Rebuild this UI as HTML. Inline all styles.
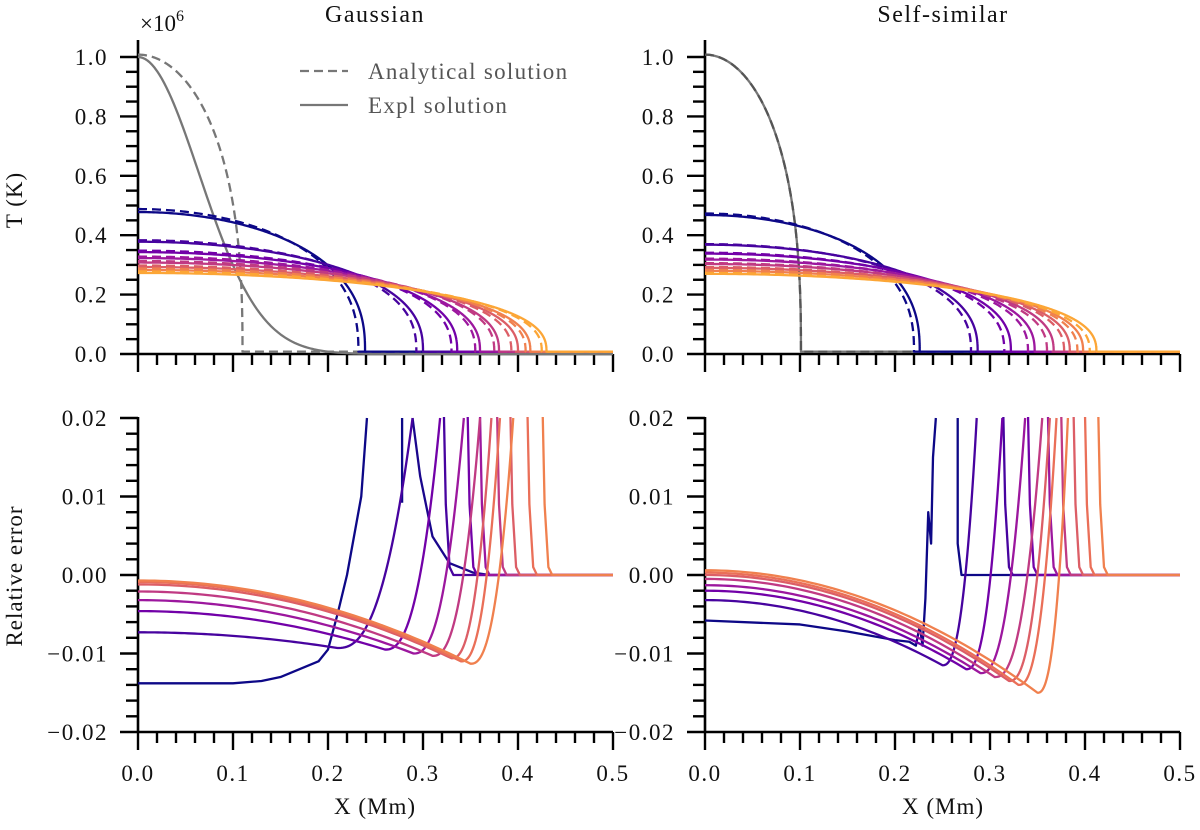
<!DOCTYPE html>
<html><head><meta charset="utf-8"><style>
html,body{margin:0;padding:0;background:#fff}
svg text{font-family:"Liberation Serif",serif;fill:#111}
</style></head><body>
<svg id="fig" width="1200" height="825" viewBox="0 0 1200 825" xmlns="http://www.w3.org/2000/svg">
<defs>
<clipPath id="cTL"><rect x="138" y="40" width="476" height="316"/></clipPath>
<clipPath id="cTR"><rect x="705" y="40" width="476" height="316"/></clipPath>
<clipPath id="cBL"><rect x="138" y="417" width="476" height="317"/></clipPath>
<clipPath id="cBR"><rect x="705" y="417" width="476" height="317"/></clipPath>
</defs>
<text x="375" y="22" font-size="24" letter-spacing="1.5" text-anchor="middle">Gaussian</text>
<text x="943" y="22" font-size="24" letter-spacing="1.5" text-anchor="middle">Self-similar</text>
<text x="140" y="31" font-size="23">×10<tspan font-size="16" dy="-10">6</tspan></text>
<text x="22" y="200" font-size="23" letter-spacing="1" text-anchor="middle" transform="rotate(-90 22 200)">T (K)</text>
<text x="22" y="576" font-size="23" letter-spacing="1" text-anchor="middle" transform="rotate(-90 22 576)">Relative error</text>
<text x="375" y="814" font-size="23" letter-spacing="1" text-anchor="middle">X (Mm)</text>
<text x="943" y="814" font-size="23" letter-spacing="1" text-anchor="middle">X (Mm)</text>
<g>
<line x1="300" y1="71" x2="348" y2="71" stroke="#777" stroke-width="2.2" stroke-dasharray="9,5"/>
<text x="368" y="79" font-size="23" letter-spacing="1.3" style="fill:#555">Analytical solution</text>
<line x1="300" y1="105" x2="348" y2="105" stroke="#777" stroke-width="2.2"/>
<text x="368" y="113" font-size="23" letter-spacing="1.3" style="fill:#555">Expl solution</text>
</g>
<g id="layer"></g>
</svg>
<script>
// ---- data: top panels (temperature, units 1e6 K) ----
const colors = ["#0d0887","#47039f","#7201a8","#9c179e","#c03a83","#dc5e66","#f0804e","#fca636"];
const errColors = ["#0d0887","#47039f","#7201a8","#9c179e","#c03a83","#dc5e66","#ea6f58","#f0804e"];
const gaussAmpAna = [0.48,0.375,0.34,0.32,0.305,0.29,0.28,0.27];
const gaussAmpNum = [0.47,0.37,0.335,0.315,0.30,0.285,0.275,0.265];
const gaussFrontAna = [0.232,0.293,0.33,0.355,0.375,0.393,0.408,0.425];
const gaussFrontNum = [0.239,0.30,0.336,0.36,0.38,0.40,0.413,0.43];
const selfAmpAna = [0.465,0.362,0.333,0.313,0.298,0.285,0.275,0.265];
const selfAmpNum = [0.46,0.36,0.33,0.31,0.295,0.282,0.272,0.262];
const selfFrontAna = [0.22,0.28,0.315,0.34,0.36,0.378,0.392,0.405];
const selfFrontNum = [0.226,0.287,0.322,0.347,0.367,0.384,0.398,0.412];
const initAmp = [1.0];
const gaussInitWidth = [0.091];
const gaussInitFront = [0.11];
const selfInitFront = [0.101];
const floorT = [0.008];
// ---- data: bottom panels (relative error) ----
const gErrStart = [-0.0073,-0.0046,-0.0032,-0.0021,-0.0012,-0.0009,-0.0007];
const gErrMin = [-0.0093,-0.0095,-0.0100,-0.0103,-0.0106,-0.0110,-0.0113];
const gErrMinX = [0.21,0.26,0.29,0.31,0.33,0.34,0.35];
const gErrRiseX = [0.289,0.318,0.343,0.36,0.372,0.381,0.395];
const gErrDropX = [0.322,0.347,0.36,0.378,0.392,0.41,0.426];
const gBlueX = [0,0.1,0.13,0.15,0.17,0.19,0.2,0.21,0.22,0.235,0.241];
const gBlueE = [-0.0138,-0.0138,-0.0135,-0.013,-0.012,-0.011,-0.0095,-0.005,0.0,0.01,0.02];
const gSpikeX = [0.278,0.278];
const gSpikeE = [0.0092,0.02];
const gDecayX = [0.289,0.297,0.31,0.328,0.353,0.37,0.5];
const gDecayE = [0.02,0.0126,0.0049,0.0015,0.0003,0,0];
const sErrStart = [-0.0032,-0.002,-0.0013,-0.0005,0.0,0.0003,0.0006];
const sErrMin = [-0.0115,-0.012,-0.0125,-0.013,-0.0135,-0.014,-0.015];
const sErrMinX = [0.25,0.275,0.29,0.305,0.32,0.33,0.35];
const sErrRiseX = [0.286,0.313,0.337,0.355,0.363,0.37,0.382];
const sErrDropX = [0.314,0.34,0.361,0.375,0.388,0.40,0.414];
const sBlueX = [0,0.1,0.15,0.2,0.215,0.222,0.226,0.229,0.232,0.235,0.238,0.24,0.243];
const sBlueE = [-0.0058,-0.0063,-0.0072,-0.0083,-0.0085,-0.009,-0.0065,-0.009,-0.003,0.008,0.004,0.015,0.02];
const sBlueDropX = [0.266,0.266,0.27,0.5];
const sBlueDropE = [0.02,0.004,0,0];
const xTicks = ["0.0","0.1","0.2","0.3","0.4","0.5"];
const tTicks = ["0.0","0.2","0.4","0.6","0.8","1.0"];
const eTicks = ["\u22120.02","\u22120.01","0.00","0.01","0.02"];

const NS="http://www.w3.org/2000/svg";
const layer=document.getElementById('layer');
function mk(tag,attrs,parent){const e=document.createElementNS(NS,tag);for(const k in attrs)e.setAttribute(k,attrs[k]);(parent||layer).appendChild(e);return e;}
const panels={
 TL:{x0:138,y0:354,sx:950,sy:297,clip:'cTL'},
 TR:{x0:705,y0:354,sx:950,sy:297,clip:'cTR'},
 BL:{x0:138,y0:575,sx:950,sy:7850,clip:'cBL'},
 BR:{x0:705,y0:575,sx:950,sy:7850,clip:'cBR'}
};
function px(p,x){return p.x0+p.sx*x;}
function py(p,v){return p.y0-p.sy*v;}
function poly(p,xs,ys,color,dash,name){
 let d='';for(let i=0;i<xs.length;i++){d+=(i?'L':'M')+px(p,xs[i]).toFixed(2)+','+py(p,ys[i]).toFixed(2);}
 const el=mk('path',{d:d,fill:'none',stroke:color,'stroke-width':2.3,'stroke-linejoin':'round','clip-path':'url(#'+p.clip+')'});
 if(dash)el.setAttribute('stroke-dasharray','9,5');
 
 
}
function front(A,xf){const xs=[],ys=[];const fl=floorT[0];
 for(let i=0;i<=300;i++){const t=i/300;const x=xf*(1-Math.pow(1-t,3));xs.push(x);ys.push(A*Math.pow(Math.max(0,1-(x/xf)*(x/xf)),0.4)+fl);}
 xs.push(0.5);ys.push(fl);return [xs,ys];}
function gauss(A,w){const xs=[],ys=[];for(let i=0;i<=200;i++){const x=0.5*i/200;xs.push(x);ys.push(A*Math.exp(-(x/w)*(x/w)));}return [xs,ys];}
function errC(s,m,xm,xr){const xs=[],ys=[];
 for(let i=0;i<=60;i++){const t=i/60;const x=xm*t;xs.push(x);ys.push(s+(m-s)*t*t);}
 for(let i=1;i<=40;i++){const t=i/40;const x=xm+(xr-xm)*t;xs.push(x);ys.push(m+(0.02-m)*Math.pow(t,2.5));}
 return [xs,ys];}
function dropC(xd){return [[xd,xd+0.002,xd+0.006,xd+0.01,0.5],[0.0205,0.009,0.001,0,0]];}

function axes(p,name,yt,ymin,ymax,ymajorStep,yminorStep,xLabels,ytopPix){
 const g=mk('g',{});
 
 
 mk('line',{x1:p.x0,y1:ytopPix,x2:p.x0,y2:py(p,ymin)+1,stroke:'#000','stroke-width':2.6},g);
 mk('line',{x1:p.x0-1,y1:py(p,ymin),x2:px(p,0.5),y2:py(p,ymin),stroke:'#000','stroke-width':2.6},g);
 const yb=py(p,ymin);
 for(let i=0;i<=25;i++){const x=px(p,i*0.02);const major=i%5==0;
  mk('line',{x1:x,y1:yb,x2:x,y2:yb+(major?18:11),stroke:'#000','stroke-width':2.4},g);}
 if(xLabels){xTicks.forEach((t,i)=>{const tx=mk('text',{x:px(p,i*0.1),y:yb+49,'font-size':23,'letter-spacing':1.5,'text-anchor':'middle'},g);tx.textContent=t;
  
  });}
 const n=Math.round((ymax-ymin)/yminorStep);
 for(let i=0;i<=n;i++){const v=ymin+i*yminorStep;const y=py(p,v);const major=Math.abs(Math.round(i*yminorStep/ymajorStep)-i*yminorStep/ymajorStep)<1e-6;
  mk('line',{x1:p.x0-(major?18:12),y1:y,x2:p.x0,y2:y,stroke:'#000','stroke-width':2.4},g);}
 yt.forEach((t,i)=>{const tx=mk('text',{x:p.x0-30,y:py(p,ymin+i*ymajorStep)+8,'font-size':23,'letter-spacing':1.5,'text-anchor':'end'},g);tx.textContent=t;
  
  });
}
axes(panels.TL,'gaussian-temperature',tTicks,0,1.0,0.2,0.05,false,40);
axes(panels.TR,'self-similar-temperature',tTicks,0,1.0,0.2,0.05,false,40);
axes(panels.BL,'gaussian-error',eTicks,-0.02,0.02,0.01,0.002,true,417);
axes(panels.BR,'self-similar-error',eTicks,-0.02,0.02,0.01,0.002,true,417);

let c=gauss(initAmp[0],gaussInitWidth[0]); poly(panels.TL,c[0],c[1],'#777',false,'gaussian-initial-numerical');
c=front(initAmp[0],gaussInitFront[0]); poly(panels.TL,c[0],c[1],'#777',true,'gaussian-initial-analytical');
for(let i=0;i<8;i++){
 c=front(gaussAmpAna[i],gaussFrontAna[i]); poly(panels.TL,c[0],c[1],colors[i],true,'gaussian-analytical-'+i);
 c=front(gaussAmpNum[i],gaussFrontNum[i]); poly(panels.TL,c[0],c[1],colors[i],false,'gaussian-numerical-'+i);
}
c=front(initAmp[0],selfInitFront[0]); poly(panels.TR,c[0],c[1],'#777',false,'self-similar-initial-numerical');
poly(panels.TR,c[0],c[1],'#555',true,'self-similar-initial-analytical');
for(let i=0;i<8;i++){
 c=front(selfAmpNum[i],selfFrontNum[i]); poly(panels.TR,c[0],c[1],colors[i],false,'self-similar-numerical-'+i);
 c=front(selfAmpAna[i],selfFrontAna[i]); poly(panels.TR,c[0],c[1],colors[i],true,'self-similar-analytical-'+i);
}
poly(panels.BL,gBlueX,gBlueE,errColors[0],false,'gaussian-error-0-rise');
poly(panels.BL,gSpikeX,gSpikeE,errColors[0],false,'gaussian-error-0-spike');
poly(panels.BL,gDecayX,gDecayE,'#1a068c',false,'gaussian-error-0-decay');
for(let i=0;i<7;i++){
 c=errC(gErrStart[i],gErrMin[i],gErrMinX[i],gErrRiseX[i]); poly(panels.BL,c[0],c[1],errColors[i+1],false,'gaussian-error-'+(i+1));
 c=dropC(gErrDropX[i]); poly(panels.BL,c[0],c[1],errColors[i+1],false,'gaussian-error-drop-'+(i+1));
}
poly(panels.BR,sBlueX,sBlueE,errColors[0],false,'self-similar-error-0-rise');
poly(panels.BR,sBlueDropX,sBlueDropE,errColors[0],false,'self-similar-error-0-drop');
for(let i=0;i<7;i++){
 c=errC(sErrStart[i],sErrMin[i],sErrMinX[i],sErrRiseX[i]); poly(panels.BR,c[0],c[1],errColors[i+1],false,'self-similar-error-'+(i+1));
 c=dropC(sErrDropX[i]); poly(panels.BR,c[0],c[1],errColors[i+1],false,'self-similar-error-drop-'+(i+1));
}
</script>
</body></html>
